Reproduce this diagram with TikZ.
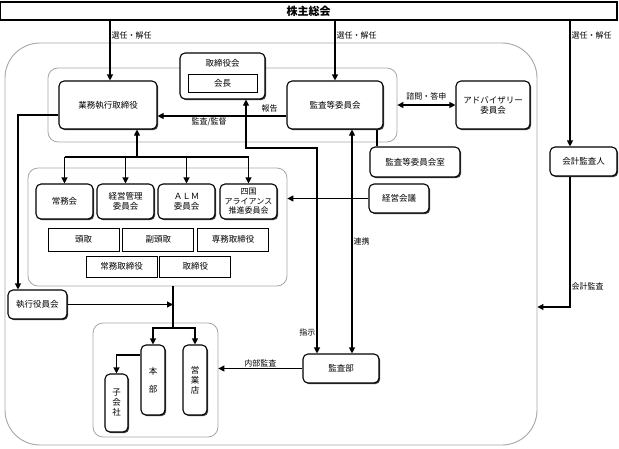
\documentclass[tikz,border=0pt]{standalone}
\usepackage{fontspec}
\newfontfamily\jp{Noto Sans CJK JP}
\usetikzlibrary{positioning,arrows.meta,shadows}
\newcommand\boxfont{\jp\fontsize{8.5pt}{10pt}\selectfont}
\newcommand\lblfont{\jp\fontsize{8pt}{9.5pt}\selectfont}
\tikzset{
  box/.style ={draw, line width=1.1pt, rounded corners=5pt, fill=white, align=center, inner sep=1pt, font=\boxfont,
               drop shadow={shadow xshift=1.2pt, shadow yshift=-1.2pt, fill=black!75, opacity=1}},
  rbox/.style={draw, line width=0.8pt, fill=white, align=center, inner sep=1pt, font=\boxfont},
  grp/.style ={draw=gray!70, line width=0.8pt, rounded corners=10pt},
  lbl/.style ={font=\lblfont, inner sep=1pt},
  ln/.style  ={line width=1.1pt},
  arr/.style ={-{Triangle[length=6pt,width=6pt]}, line width=1.1pt},
  arrb/.style={{Triangle[length=6pt,width=6pt]}-{Triangle[length=6pt,width=6pt]}, line width=1.1pt},
}

\begin{document}
\begin{tikzpicture}[x=1pt,y=-1pt,font=\boxfont]
  \useasboundingbox (0,0) rectangle (619,448);
  % groups
  \node[draw=gray!70, line width=0.9pt, rounded corners=35pt, minimum width=532pt, minimum height=402pt] (outer) at (271,244) {};
  \node[grp, minimum width=349pt, minimum height=74pt] (grp1) at (222.5,105) {};
  \node[grp, minimum width=259pt, minimum height=118pt] (grp2) at (157.5,227) {};
  \node[grp, minimum width=125pt, minimum height=114pt] (grp3) at (155.5,380) {};

  % boxes
  \node[box, rounded corners=0pt, minimum width=617pt, minimum height=18pt, font=\jp\fontsize{11pt}{12pt}\selectfont\bfseries] (kabu) at (308.5,11) {株主総会};
  \node[box, minimum width=85pt, minimum height=46pt] (torikai) at (222.5,76) {};
  \node[lbl, font=\boxfont] (torikaitxt) at (222.5,63) {取締役会};
  \node[rbox, minimum width=69pt, minimum height=18pt] (kaicho) at (222.5,83) {会長};
  \node[box, minimum width=98pt, minimum height=48pt] (gyomu) at (108,105) {業務執行取締役};
  \node[box, minimum width=96pt, minimum height=48pt] (kansatou) at (335,105) {監査等委員会};
  \node[box, minimum width=74pt, minimum height=48pt] (advisory) at (493,105) {アドバイザリー\\委員会};
  \node[box, minimum width=90pt, minimum height=30pt] (shitsu) at (415,162) {監査等委員会室};
  \node[box, minimum width=67pt, minimum height=29pt] (kaikei) at (583.5,161.5) {会計監査人};
  \node[box, minimum width=60pt, minimum height=29pt] (keiei) at (399,198.5) {経営会議};

  \node[box, minimum width=57pt, minimum height=35pt] (jomu) at (64.5,201.5) {常務会};
  \node[box, minimum width=57pt, minimum height=35pt] (kanri) at (125.5,201.5) {経営管理\\委員会};
  \node[box, minimum width=57pt, minimum height=35pt] (alm) at (186.5,201.5) {ＡＬＭ\\委員会};
  \node[box, minimum width=57pt, minimum height=35pt, font=\lblfont] (shikoku) at (248.5,201.5) {四国\\アライアンス\\推進委員会};

  \node[rbox, minimum width=71pt, minimum height=23pt] (todori) at (83.5,239.5) {頭取};
  \node[rbox, minimum width=71pt, minimum height=23pt, right=3pt of todori] (fukutodori) {副頭取};
  \node[rbox, minimum width=71pt, minimum height=23pt, right=3pt of fukutodori] (senmu) {専務取締役};
  \node[rbox, minimum width=71pt, minimum height=21pt] (jomutori) at (121.5,266.5) {常務取締役};
  \node[rbox, minimum width=71pt, minimum height=21pt, right=2pt of jomutori] (tori) {取締役};

  \node[box, minimum width=59pt, minimum height=29pt] (shikkou) at (37.5,304.5) {執行役員会};
  \node[box, minimum width=24pt, minimum height=70pt] (honbu) at (153,380) {本\\[8pt]部};
  \node[box, minimum width=24pt, minimum height=70pt] (eigyo) at (195,380) {営\\業\\店};
  \node[box, minimum width=23pt, minimum height=58pt] (kogaisha) at (116.5,403) {子\\会\\社};
  \node[box, minimum width=76pt, minimum height=29pt] (kansabu) at (341,368.5) {監査部};

  % connectors
  \draw[arr] ([xshift=2pt]kabu.south -| gyomu.north) -- ([xshift=2pt]gyomu.north) node[lbl, pos=0.25, anchor=west] {選任・解任};
  \draw[arr] (kabu.south -| kansatou.north) -- (kansatou.north) node[lbl, pos=0.25, anchor=west] {選任・解任};
  \draw[arr] ([xshift=-13.5pt]kabu.south -| kaikei.north) -- ([xshift=-13.5pt]kaikei.north) node[lbl, pos=0.12, anchor=west] {選任・解任};

  \draw[arr] ([yshift=-11pt]kansatou.west) -- ([yshift=-11pt]kansatou.west -| gyomu.east)
    node[lbl, pos=0.13, above=2pt] {報告} node[lbl, pos=0.6, below] {監査/監督};
  \draw[arr] ([yshift=-10pt]gyomu.west) -| ([xshift=-19.5pt]shikkou.north);

  \coordinate (bus1) at (137,157);
  \draw[arr] (bus1) -- (bus1 |- gyomu.south);
  \draw[ln] (bus1 -| jomu.north) -- (bus1 -| shikoku.north);
  \foreach \n in {jomu,kanri,alm,shikoku}
    \draw[arr] (bus1 -| \n.north) -- (\n.north);

  \coordinate (tk) at (317,148);
  \draw[arrb] ([xshift=23.5pt]torikai.south) |- (tk) -- node[lbl, pos=0.9, left] {指示} ([xshift=-24pt]kansabu.north);
  \draw[arrb] ([xshift=17pt]kansatou.south) -- ([xshift=17pt]kansatou.south |- kansabu.north) node[lbl, pos=0.5, right] {連携};
  \draw[ln] ([xshift=42pt]kansatou.south) -- ([xshift=42pt]kansatou.south |- shitsu.north);
  \draw[arrb] (grp1.east) -- (advisory.west) node[lbl, midway, above=3pt] {諮問・答申};
  \draw[arr] ([xshift=-13.5pt]kaikei.south) |- node[lbl, pos=0.42, right] {会計監査} ([yshift=-63pt]outer.east);
  \draw[arr] (keiei.west) -- (keiei.west -| grp2.east);

  \coordinate (bus2) at (173,328);
  \draw[ln] ([xshift=15.5pt]grp2.south) -- (bus2);
  \draw[arr] (shikkou.east) -- (shikkou.east -| bus2);
  \draw[arr] (bus2) -| (honbu.north);
  \draw[arr] (bus2) -| (eigyo.north);
  \draw[arr] ([yshift=25pt]honbu.west) -| (kogaisha.north);
  \draw[arr] (kansabu.west) -- (kansabu.west -| grp3.east) node[lbl, midway, above] {内部監査};
\end{tikzpicture}
\end{document}
